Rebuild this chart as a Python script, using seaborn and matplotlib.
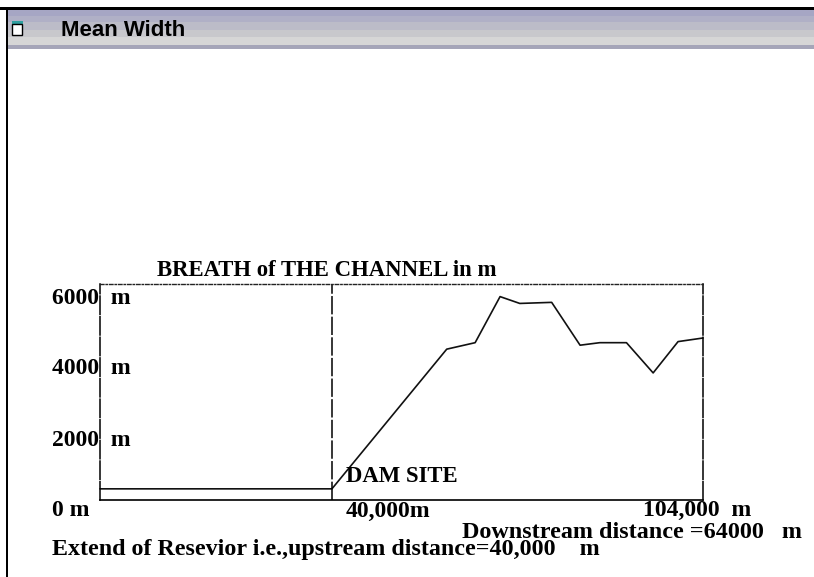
import numpy as np
import pandas as pd
import matplotlib
matplotlib.use('Agg')
import matplotlib.pyplot as plt
from matplotlib.patches import Rectangle
import seaborn as sns

# values
distance = [0, 40000, 59800, 64700, 69000, 72400, 77900, 82800, 86200, 90800, 95400, 99700, 104000]
breadth = [310, 310, 4190, 4370, 5650, 5460, 5490, 4300, 4370, 4370, 3530, 4400, 4500]
dam_x = 40000
df = pd.DataFrame({'distance': distance, 'breadth': breadth})

W, H = 814, 577
sns.set_theme(style='white')
plt.rcParams['font.family'] = ['Liberation Serif', 'DejaVu Serif']

fig = plt.figure(figsize=(W / 100, H / 100), dpi=100)


def px_text(x, y, s, size=16.4, ha='left', **kw):
    # place text by pixel position of the reference
    kw.setdefault('fontweight', 'bold')
    fig.text(x / W, 1 - y / H, s, fontsize=size, ha=ha, va='center', color='black', **kw)


def px_rect(x, y, w, h, color):
    fig.add_artist(Rectangle((x / W, 1 - (y + h) / H), w / W, h / H, transform=fig.transFigure,
                             facecolor=color, edgecolor='none'))


# window frame and title bar
px_rect(0, 7, W, 3, 'black')
px_rect(6, 7, 2, H - 7, 'black')
px_rect(8, 10, W - 8, 6, '#a6a6c4')
px_rect(8, 16, W - 8, 6, '#b0b0c6')
px_rect(8, 22, W - 8, 8, '#bcbcc8')
px_rect(8, 30, W - 8, 7, '#c8c8cc')
px_rect(8, 37, W - 8, 8, '#d6d6d6')
px_rect(8, 45, W - 8, 4, '#a5a5b8')
px_rect(12, 21, 11, 3, '#2f9fa0')
fig.add_artist(Rectangle((12 / W, 1 - 35 / H), 10 / W, 11 / H, transform=fig.transFigure,
                         facecolor='white', edgecolor='black', lw=1))
px_text(61, 30, 'Mean Width', size=16, family='Liberation Sans')

# plot area
ax = fig.add_axes([100 / W, 1 - 500 / H, 603 / W, 216 / H])
sns.lineplot(data=df, x='distance', y='breadth', ax=ax, color='#111111', lw=1.2, clip_on=False)
ax.axvline(dam_x, color='black', lw=1.1, ls=(0, (12, 1.5)))
ax.set_xlim(0, 104000)
ax.set_ylim(0, 6000)
ax.set_xticks([])
ax.set_yticks([])
ax.set_xlabel('')
ax.set_ylabel('')
ax.spines['top'].set(linestyle=(0, (2.5, 1.5, 1, 1.5)), linewidth=1, color='#222222')
ax.spines['left'].set(linestyle=(0, (12, 1.5)), linewidth=1.1, color='black')
ax.spines['right'].set(linestyle=(0, (12, 1.5)), linewidth=1.1, color='black')
ax.spines['bottom'].set(linewidth=1.2, color='black')
ax.patch.set_alpha(0)

# labels
px_text(157, 270, 'BREATH of THE CHANNEL in m')
px_text(52, 298, '6000  m', size=17)
px_text(52, 369, '4000  m', size=17)
px_text(52, 441, '2000  m', size=17)
px_text(52, 511, '0 m', size=17)
px_text(346, 511, '40,000m', size=17)
px_text(346, 476, 'DAM SITE')
px_text(643, 510, '104,000  m', size=17)
px_text(462, 532, 'Downstream distance =64000   m', size=17.4)
px_text(52, 550, 'Extend of Resevior i.e.,upstream distance=40,000    m', size=17.3)

fig.savefig('out.png', dpi=100)
